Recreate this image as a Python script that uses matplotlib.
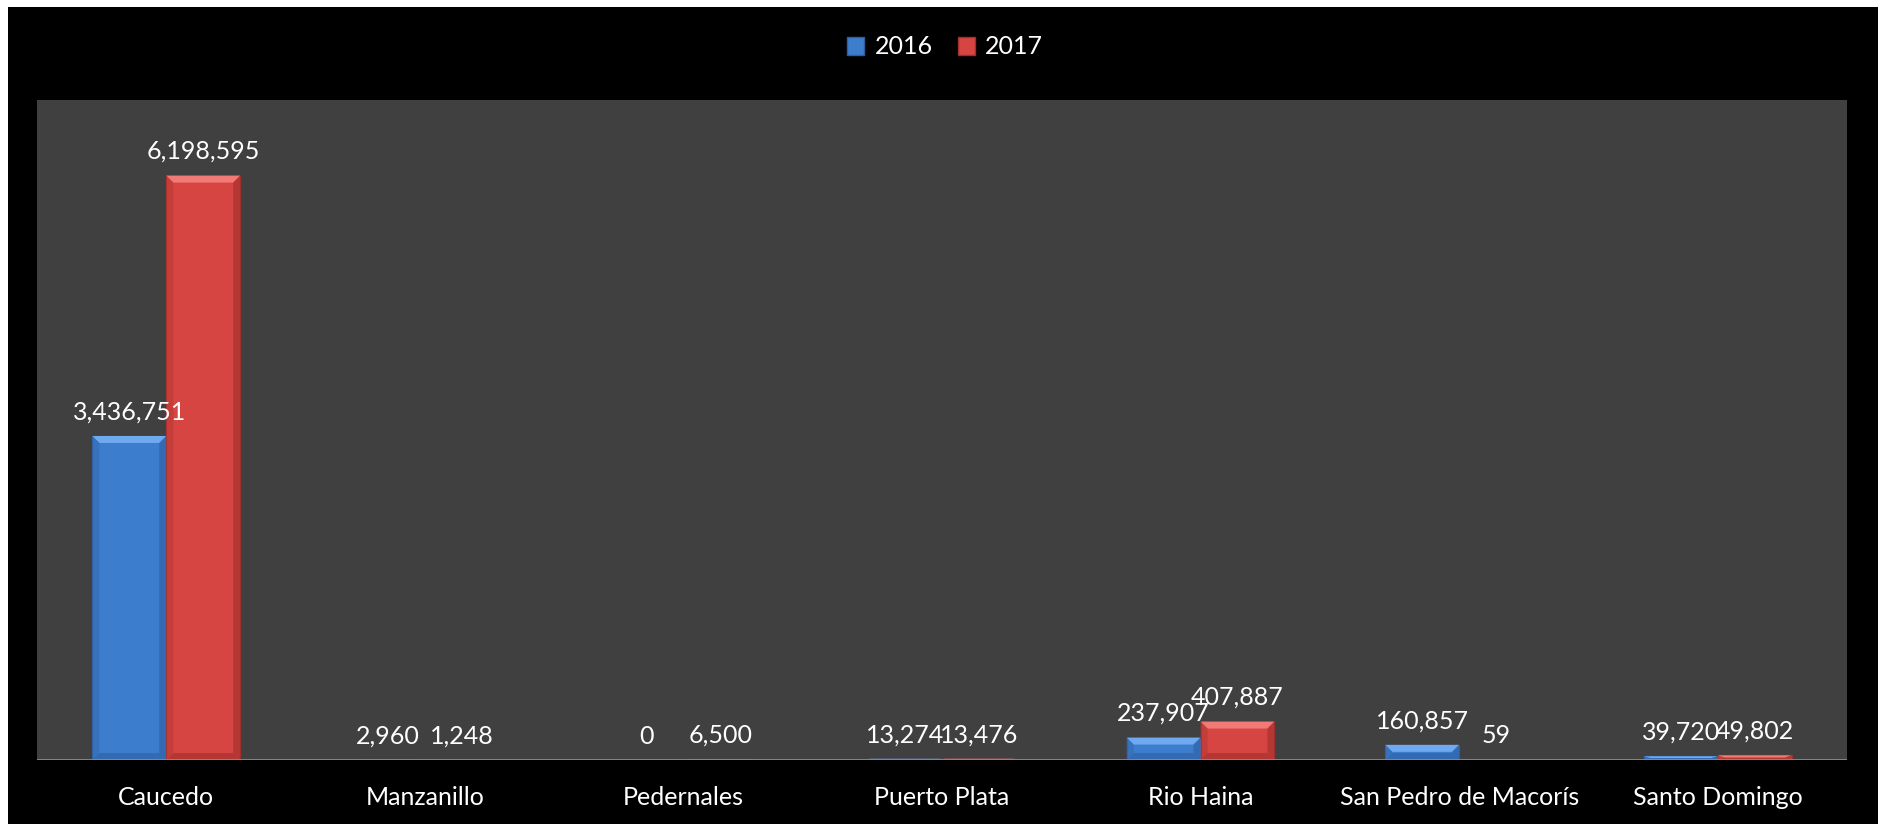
import matplotlib
matplotlib.use("Agg")
import matplotlib.pyplot as plt
import numpy as np
from matplotlib.patches import Rectangle, Polygon

categories = ["Caucedo", "Manzanillo", "Pedernales", "Puerto Plata", "Rio Haina",
              "San Pedro de Macorís", "Santo Domingo"]
series_names = ["2016", "2017"]
values_2016 = [3436751, 2960, 0, 13274, 237907, 160857, 39720]
values_2017 = [6198595, 1248, 6500, 13476, 407887, 59, 49802]

plt.rcParams['font.family'] = ['Lato', 'DejaVu Sans']

W, H = 1878, 824
fig = plt.figure(figsize=(W / 100, H / 100), dpi=100)
fig.patch.set_facecolor("white")
fig.patches.append(Rectangle((8 / W, 0), 1 - 8 / W, 1 - 7 / H, transform=fig.transFigure,
                             facecolor="black", edgecolor="none", zorder=-10))

ax = fig.add_axes([37 / W, 64 / H, 1810 / W, 660 / H])
ax.set_facecolor("#404040")
ymax = 7000000
ax.set_ylim(0, ymax)
n = len(categories)
ax.set_xlim(-0.5, n - 0.5)

bw = 1 / 3.5
x = np.arange(n)
colors = {
    "2016": dict(main="#3D7DCE", top="#6FAAF0", dark="#2E5E9E", side="#3569B0"),
    "2017": dict(main="#D64541", top="#F27A76", dark="#A02E2B", side="#B83835"),
}

ax_h_px = 660
data_per_px = ymax / ax_h_px
ax_w_px = 1810
xdata_per_px = n / ax_w_px

for i, (name, vals) in enumerate([("2016", values_2016), ("2017", values_2017)]):
    pos = x - bw / 2 + i * bw
    c = colors[name]
    bars = ax.bar(pos, vals, width=bw, color=c["main"], edgecolor=c["dark"], linewidth=0.8, zorder=2)
    for b, v in zip(bars, vals):
        bx, bwid, bh = b.get_x(), b.get_width(), b.get_height()
        if bh <= 0:
            continue
        bev_y = min(7 * data_per_px, bh / 2)
        bev_x = min(7 * xdata_per_px, bwid / 2)
        ax.add_patch(Polygon([(bx, bh), (bx + bwid, bh), (bx + bwid - bev_x, bh - bev_y),
                              (bx + bev_x, bh - bev_y)], closed=True, facecolor=c["top"],
                             edgecolor="none", zorder=3))
        ax.add_patch(Polygon([(bx, bh), (bx + bev_x, bh - bev_y), (bx + bev_x, bev_y), (bx, 0)],
                             closed=True, facecolor=c["side"], edgecolor="none", zorder=3, alpha=0.6))
        ax.add_patch(Polygon([(bx + bwid, bh), (bx + bwid - bev_x, bh - bev_y),
                              (bx + bwid - bev_x, bev_y), (bx + bwid, 0)],
                             closed=True, facecolor=c["dark"], edgecolor="none", zorder=3, alpha=0.6))
        ax.add_patch(Polygon([(bx, 0), (bx + bwid, 0), (bx + bwid - bev_x, bev_y), (bx + bev_x, bev_y)],
                             closed=True, facecolor=c["dark"], edgecolor="none", zorder=3, alpha=0.6))
    for b, v in zip(bars, vals):
        ax.annotate(f"{v:,}", (b.get_x() + b.get_width() / 2, b.get_height()),
                    xytext=(0, 9), textcoords="offset points", ha="center", va="bottom",
                    color="white", fontsize=18, zorder=5)

ax.axhline(0, color="#8C8C8C", linewidth=2, zorder=4)
ax.set_xticks(x)
ax.set_xticklabels(categories, color="white", fontsize=18)
ax.tick_params(axis="x", length=0, pad=19)
ax.set_yticks([])
for s in ax.spines.values():
    s.set_visible(False)

handles = [Rectangle((0, 0), 1, 1, facecolor=colors[k]["main"], edgecolor=colors[k]["dark"])
           for k in series_names]
leg = fig.legend(handles, series_names, loc="center", bbox_to_anchor=(945 / W, 1 - 47 / H),
                 ncol=2, frameon=False, fontsize=18, labelcolor="white",
                 handlelength=0.7, handleheight=0.7, handletextpad=0.4, columnspacing=1.0)

fig.savefig("out.png", dpi=100, facecolor=fig.get_facecolor())
